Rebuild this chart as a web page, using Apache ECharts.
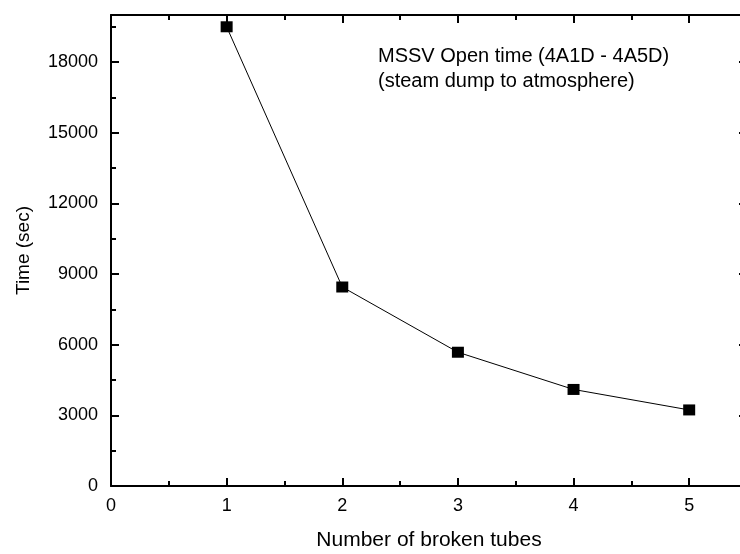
<!DOCTYPE html>
<html>
<head>
<meta charset="utf-8">
<script src="https://cdn.jsdelivr.net/npm/echarts@6/dist/echarts.min.js"></script>
<style>html,body{margin:0;padding:0;background:#fff;}#c{width:740px;height:554px;}</style>
</head>
<body>
<div id="c"></div>
<script>
const brokenTubes = [1, 2, 3, 4, 5];
const openTime = [19500, 8450, 5680, 4100, 3230];
const xLabelTicks = [0, 1, 2, 3, 4, 5];
const yLabelTicks = [0, 3000, 6000, 9000, 12000, 15000, 18000];
const xTitle = 'Number of broken tubes';
const yTitle = 'Time (sec)';
const noteLines = ['MSSV Open time (4A1D - 4A5D)', '(steam dump to atmosphere)'];

const FONT = '"Liberation Sans", Arial, sans-serif';
const chart = echarts.init(document.getElementById('c'), null, {renderer: 'canvas'});

const X_MIN = 0, X_MAX = 5.5, Y_MIN = 0, Y_MAX = 20000;
const lineStyle = {color: '#000', width: 2};

function xAx(pos, interval, tickLen, withLabels, withLine) {
  return {
    type: 'value', position: pos, min: X_MIN, max: X_MAX, interval: interval,
    axisLine: {show: withLine, onZero: false, lineStyle: lineStyle},
    axisTick: {show: true, inside: true, length: tickLen, lineStyle: {color: '#000', width: 2}},
    axisLabel: withLabels ? {
      show: true, margin: 11, color: '#000', fontSize: 18, fontFamily: FONT,
      showMaxLabel: false,
      formatter: v => xLabelTicks.includes(v) ? String(v) : ''
    } : {show: false},
    splitLine: {show: false},
    name: withLabels ? xTitle : '', nameLocation: 'middle', nameGap: 44,
    nameTextStyle: {color: '#000', fontSize: 21, fontFamily: FONT}
  };
}
function yAx(pos, interval, tickLen, withLabels, withLine) {
  return {
    type: 'value', position: pos, min: Y_MIN, max: Y_MAX, interval: interval,
    axisLine: {show: withLine, onZero: false, lineStyle: lineStyle},
    axisTick: {show: true, inside: true, length: tickLen, lineStyle: {color: '#000', width: 2}},
    axisLabel: withLabels ? {
      show: true, margin: 13, color: '#000', fontSize: 18, fontFamily: FONT,
      showMaxLabel: false,
      formatter: v => yLabelTicks.includes(v) ? String(v) : ''
    } : {show: false},
    splitLine: {show: false},
    name: withLabels ? yTitle : '', nameLocation: 'middle', nameGap: 78,
    nameTextStyle: {color: '#000', fontSize: 19, fontFamily: FONT}
  };
}

chart.setOption({
  backgroundColor: '#fff',
  animation: false,
  grid: {left: 111, top: 15, width: 636, height: 471, show: false,
         containLabel: false, outerBoundsMode: 'none'},
  xAxis: [
    xAx('bottom', 1, 8, true, true),
    xAx('bottom', 0.5, 5, false, false),
    xAx('top', 1, 8, false, true),
    xAx('top', 0.5, 5, false, false)
  ],
  yAxis: [
    yAx('left', 3000, 8, true, true),
    yAx('left', 1500, 5, false, false),
    yAx('right', 3000, 8, false, true),
    yAx('right', 1500, 5, false, false)
  ],
  graphic: [{
    type: 'text', left: 378, top: 44, silent: true,
    style: {
      text: noteLines.join('\n'), fill: '#000', fontSize: 20, fontFamily: FONT,
      lineHeight: 25
    }
  }],
  series: [{
    type: 'line', xAxisIndex: 0, yAxisIndex: 0,
    data: brokenTubes.map((x, i) => [x, openTime[i]]),
    lineStyle: {color: '#000', width: 1},
    itemStyle: {color: '#000'},
    symbol: 'rect', symbolSize: [12, 11], showSymbol: true
  }]
});
</script>
</body>
</html>
